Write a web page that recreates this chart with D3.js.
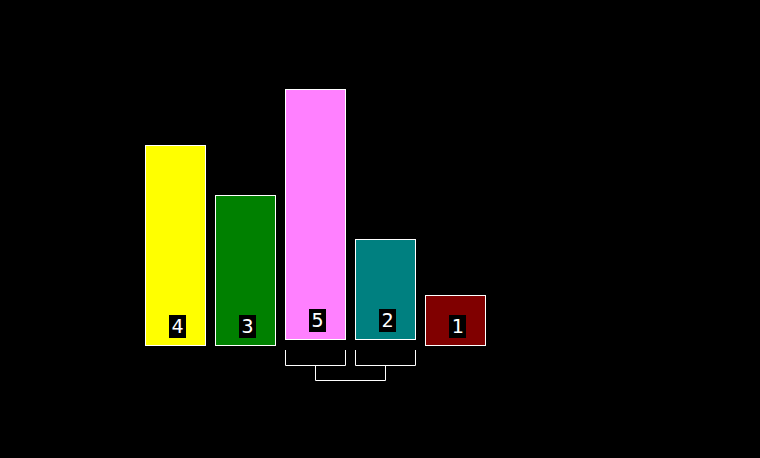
<!DOCTYPE html>
<html lang="en">
<head>
<meta charset="UTF-8">
<title>Bars</title>
<style>
  html, body { margin: 0; padding: 0; background: #000; }
  svg { display: block; }
</style>
</head>
<body>
<div class="chart"></div>
<script src="https://d3js.org/d3.v7.min.js"></script>
<script>
  const values = [4, 3, 5, 2, 1];
  const colors = ["#ffff00", "#008000", "#ff80ff", "#008080", "#800000"];
  // bars currently being compared (drawn lifted, with a bracket under them)
  const active = [2, 3];

  const width = 760, height = 458;
  const baseY = 345, lift = 6;

  const svg = d3.select('.chart').append('svg')
      .attr('width', width)
      .attr('height', height);

  svg.append('rect').attr('width', width).attr('height', height).attr('fill', '#000');

  const x = d3.scaleBand()
      .domain(values.map((d, i) => i))
      .range([145, 485])
      .paddingInner(1 / 7)
      .paddingOuter(0);

  const y = d3.scaleLinear()
      .domain([0, 5])
      .range([baseY, baseY - 250]);

  const off = i => active.includes(i) ? -lift : 0;

  const g = svg.append('g');

  g.selectAll('.bar')
    .data(values)
    .join('rect')
    .attr('class', 'bar')
    .attr('x', (d, i) => x(i) + 0.5)
    .attr('y', (d, i) => y(d) + off(i) + 0.5)
    .attr('width', x.bandwidth())
    .attr('height', d => y(0) - y(d))
    .attr('fill', (d, i) => colors[i])
    .attr('stroke', '#fff')
    .attr('stroke-width', 1);

  const labels = g.selectAll('.lbl')
    .data(values)
    .join('g')
    .attr('class', 'lbl');

  // black box behind each number
  labels.append('rect')
    .attr('fill', '#000')
    .attr('x', (d, i) => x(i) + x.bandwidth() / 2 + 2.5 - 8.5)
    .attr('y', (d, i) => y(0) + off(i) - 30)
    .attr('width', 17)
    .attr('height', 23);

  labels.append('text')
    .attr('x', (d, i) => x(i) + x.bandwidth() / 2 + 2.5)
    .attr('y', (d, i) => y(0) + off(i) - 12)
    .attr('text-anchor', 'middle')
    .attr('fill', '#fff')
    .attr('font-family', 'DejaVu Sans Mono, monospace')
    .attr('font-size', 20)
    .text(d => d);

  // bracket under the compared pair
  const bTop = y(0) + 5, bMid = y(0) + 20, bLow = y(0) + 35;
  const brackets = svg.append('g')
      .attr('fill', 'none')
      .attr('stroke', '#fff')
      .attr('stroke-width', 1);

  active.forEach(i => {
    const x0 = x(i) + 0.5, x1 = x(i) + x.bandwidth() + 0.5;
    brackets.append('path')
      .attr('d', `M${x0},${bTop}V${bMid + 0.5}H${x1}V${bTop}`);
  });
  const c0 = x(active[0]) + x.bandwidth() / 2 + 0.5;
  const c1 = x(active[1]) + x.bandwidth() / 2 + 0.5;
  brackets.append('path')
    .attr('d', `M${c0},${bMid + 0.5}V${bLow + 0.5}H${c1}V${bMid + 0.5}`);
</script>
</body>
</html>
